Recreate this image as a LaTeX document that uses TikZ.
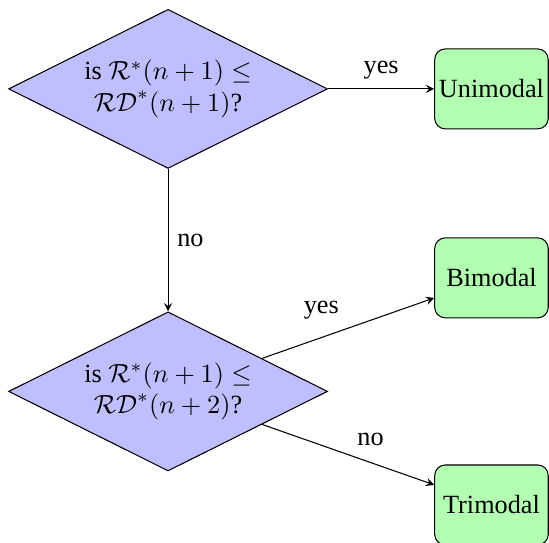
\documentclass[tikz,border=0pt]{standalone}
\usepackage{fontspec}
\setmainfont{Liberation Serif}
\usetikzlibrary{shapes.geometric}

\begin{document}
\begin{tikzpicture}[
    every node/.style={font=\normalsize},
    decision/.style={diamond, draw, fill=blue!25, aspect=2, inner sep=0pt,
                     minimum width=4.27cm, minimum height=2.13cm, align=center},
    outcome/.style={rectangle, draw, rounded corners, fill=green!30, inner sep=1.5pt,
                    minimum width=1.52cm, minimum height=1.07cm},
    arrow/.style={-stealth}
  ]
    \useasboundingbox (-2.25,-6.07) rectangle (5.10,1.19);

    % the two tests
    \node[decision] (test1) at (0, 0)     {is $\mathcal{R}^*(n+1) \leq$\\ $\mathcal{RD}^*(n+1)$?};
    \node[decision] (test2) at (0, -4.05) {is $\mathcal{R}^*(n+1) \leq$\\ $\mathcal{RD}^*(n+2)$?};

    % results
    \node[outcome] (uni) at (4.33, 0)     {Unimodal};
    \node[outcome] (bi)  at (4.33, -2.53) {Bimodal};
    \node[outcome] (tri) at (4.33, -5.57) {Trimodal};

    % branches
    \draw[arrow] (test1) -- node[auto] {yes} (uni);
    \draw[arrow] (test1) -- node[auto] {no}  (test2);
    \draw[arrow] (test2) -- node[auto] {yes} (bi);
    \draw[arrow] (test2) -- node[auto] {no}  (tri);
  \end{tikzpicture}
\end{document}
